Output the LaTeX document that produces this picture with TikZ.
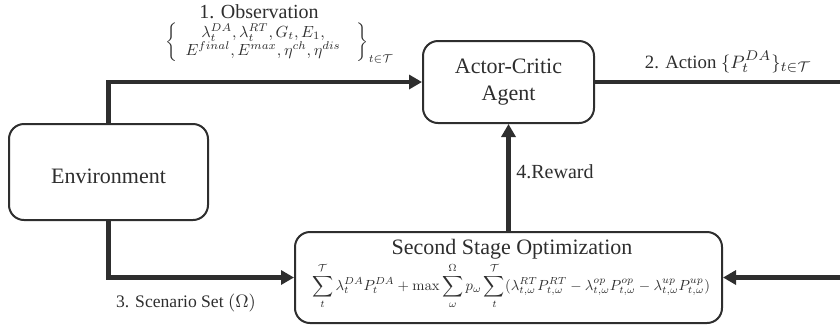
\documentclass[tikz,border=0pt]{standalone}
\usepackage[no-math]{fontspec}
\usepackage{graphicx}
\setmainfont{Liberation Serif}
\usetikzlibrary{arrows.meta,calc}
\definecolor{ink}{HTML}{2E2E2E}
\begin{document}
\begin{tikzpicture}[x=0.5pt,y=-0.5pt,
  box/.style={draw=ink,line width=1pt,rounded corners=7.5pt,inner sep=0pt,fill=white},
  conn/.style={draw=ink,line width=2.3pt},
  tip/.style={-{Triangle[length=6.5pt,width=7pt]}},
  boxtext/.style={font=\fontsize{11}{13.5}\selectfont,text=ink,align=center,inner sep=0pt},
  lbl/.style={font=\fontsize{10}{12}\selectfont,text=ink,inner sep=0pt}]
\useasboundingbox (0,0) rectangle (840,329);
% boxes
\node[box,minimum width=99.5pt,minimum height=48pt] (env) at (108.5,172) {};
\node[boxtext] (envt) at (108.5,176) {Environment};
\node[box,minimum width=85.5pt,minimum height=41pt] (agent) at (508.5,82) {};
\node[boxtext] (agentt) at (508.5,82) {Actor-Critic\\Agent};
\node[box,minimum width=213.5pt,minimum height=45.5pt] (ss) at (508.5,277.5) {};
\node[boxtext] (sst) at (512,249) {Second Stage Optimization};
\node[inner sep=0pt,text=ink] (ssf) at (511,286)
  {\resizebox{199pt}{!}{$\displaystyle\sum_{t}^{\mathcal{T}} \lambda_t^{DA} P_t^{DA} + \max \sum_{\omega}^{\Omega} p_\omega \sum_{t}^{\mathcal{T}} (\lambda_{t,\omega}^{RT} P_{t,\omega}^{RT} - \lambda_{t,\omega}^{op} P_{t,\omega}^{op} - \lambda_{t,\omega}^{up} P_{t,\omega}^{up})$}};
% free ends
\coordinate (rA) at (842,82);
\coordinate (rB) at (842,277.5);
% connectors
\draw[conn,tip] (env.north) |- (agent.west);
\draw[conn] (agent.east) -- (rA);
\draw[conn,tip] (ss.north) -- (agent.south);
\draw[conn,tip] (env.south) |- (ss.west);
\draw[conn,tip] (rB) -- (ss.east);
% labels
\node[lbl] (obs) at (259,12) {1. Observation};
\node[lbl,anchor=west] (obsset) at (165,43)
  {\resizebox{114pt}{!}{$\renewcommand{\arraystretch}{0.85}\left\{\begin{array}{c}\lambda_t^{DA},\lambda_t^{RT},G_t,E_1,\\ E^{final},E^{max},\eta^{ch},\eta^{dis}\end{array}\enspace\right\}_{t\in\mathcal{T}}$}};
\node[lbl,font=\fontsize{9.4}{11}\selectfont] (act) at (728,62) {2. Action $\{P_t^{DA}\}_{t\in\mathcal{T}}$};
\node[lbl,anchor=west] (rew) at (516,172) {4.Reward};
\node[lbl,font=\fontsize{8.8}{10.5}\selectfont] (scen) at (186,303) {3. Scenario Set $(\Omega)$};
\end{tikzpicture}
\end{document}
